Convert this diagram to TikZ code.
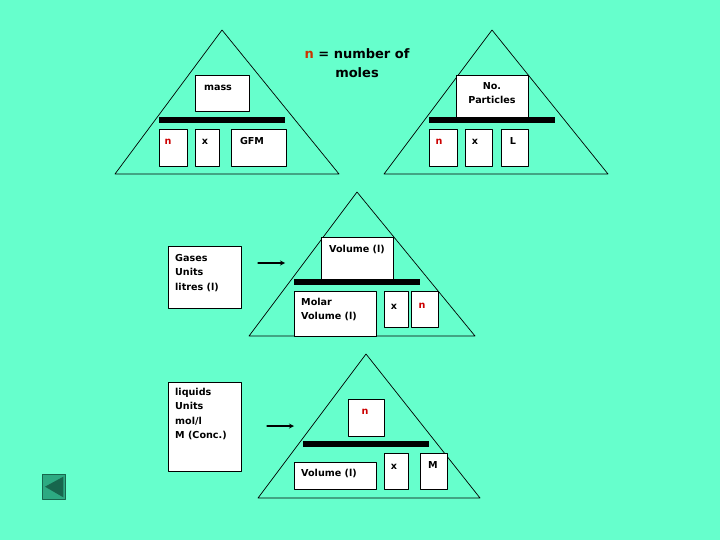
\documentclass[tikz,border=0pt]{standalone}
\usepackage{fontspec}
\setmainfont{DejaVu Sans}
\definecolor{bgaqua}{HTML}{66FFCC}
\definecolor{molred}{HTML}{CC0000}
\definecolor{titlered}{HTML}{CC3300}
\definecolor{btnfill}{HTML}{2DAA82}
\definecolor{btndark}{HTML}{17664D}
\begin{document}
\begin{tikzpicture}[x=1pt,y=-1pt,line join=round,line cap=round,
		box/.style={draw,fill=white,line width=0.8pt,inner sep=0pt},
		tri/.style={draw,line width=0.7pt},
		lbl/.style={font=\bfseries\fontsize{9.6}{14.5}\selectfont,inner sep=0pt,align=left},
		arr/.style={-stealth,line width=1.2pt}]
			\fill[bgaqua] (0,0) rectangle (720,540);
			\useasboundingbox (0,0) rectangle (720,540);
			\foreach \ax/\ay/\bx/\by/\cx/\cy in {115/174/222/30/339/174,384/174/492/30/608/174,249/336/357/192/475/336,258/498/366/354/480/498}
			\draw[tri] (\ax,\ay)--(\bx,\by)--(\cx,\cy)--cycle;
			\foreach \n/\xa/\ya/\xb/\yb in {mass/195/75/249/111,nA/159/129/187/166,xA/195/129/219/166,gfm/231/129/286/166,
				part/456/75/528/117,nB/429/129/457/166,xB/465/129/492/166,L/501/129/528/166,
				vol/321/237/393/279,molar/294/291/376/336,xC/384/291/408/327,nC/411/291/438/327,gases/168/246/241/308,
				nD/348/399/384/436,volD/294/462/376/489,xD/384/453/408/489,M/420/453/447/489,liquids/168/382/241/471}
			\node[box,minimum width={(\xb-\xa)*1pt},minimum height={(\yb-\ya)*1pt}] (\n) at ({(\xa+\xb)/2},{(\ya+\yb)/2}) {};
			\foreach \xa/\ya/\xb/\yb in {159/117/285/123,429/117/555/123,294/279/420/284.5,303/441/429/447}
			\fill (\xa,\ya) rectangle (\xb,\yb);
			\foreach \n/\a/\x/\y/\c/\s in {lmass/center/218/88/black/mass,lnA/center/168/142/molred/n,lxA/center/205/142/black/x,lgfm/center/252/141/black/GFM,
				lnB/center/439/142/molred/n,lxB/center/475/142/black/x,lL/center/513/141/black/L,
				lvol/center/357/249.5/black/Volume (l),lmolar/north west/301/298/black/{Molar\\Volume (l)},lxC/center/394/307/black/x,lnC/center/422/306/molred/n,
				lgases/north west/175/254/black/{Gases\\Units\\litres (l)},
				lnD/center/365/412/molred/n,lvolD/center/329/473.5/black/Volume (l),lxD/center/394/467/black/x,lM/center/433/465/black/M,
				lliquids/north west/175/388/black/{liquids\\Units\\mol/l\\M (Conc.)}}
			\node[lbl,anchor=\a,text=\c] (\n) at (\x,\y) {\s};
			\node[lbl,align=center] (lpart) at (492,93) {No.\\Particles};
			\node[font=\bfseries\fontsize{13}{19}\selectfont,align=center] (title) at (357,63) {\textcolor{titlered}{n} = number of\\moles};
			\path (258,263) coordinate (g1) (285,263) coordinate (g2)
			(267,426) coordinate (q1) (294,426) coordinate (q2);
			\draw[arr] (g1)--(g2);
			\draw[arr] (q1)--(q2);
			\node[draw=btndark,fill=btnfill,line width=1.2pt,minimum width=23pt,minimum height=25pt,inner sep=0pt] (back) at (54.3,486.7) {};
			\fill[btndark] (45,486.7)--(63.3,476.7)--(63.3,497.3)--cycle;
		\end{tikzpicture}
\end{document}
